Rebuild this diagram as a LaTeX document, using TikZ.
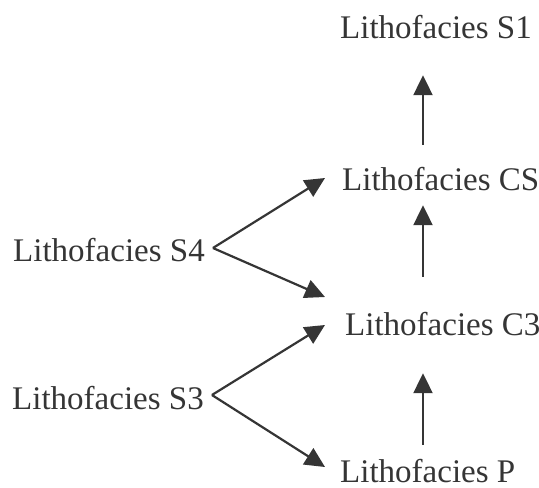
\documentclass[tikz,border=0pt]{standalone}
\usepackage{fontspec}
\setmainfont{Liberation Serif}
\usetikzlibrary{arrows.meta,calc}
\definecolor{ink}{HTML}{353535}
\tikzset{
	facies/.style={anchor=base west, inner sep=0pt, text height=22pt, text depth=0pt, text=ink, font=\fontsize{33}{39}\selectfont},
	arr/.style={draw=ink, line width=2.2pt, -{Triangle[length=20pt,width=19pt]}}
}
\begin{document}
\begin{tikzpicture}[x=1pt,y=-1pt]
	\useasboundingbox (0,0) rectangle (539,488);
	\node[facies] (s1) at (340,38) {Lithofacies S1};
	\node[facies] (cs) at (342,190) {Lithofacies CS};
	\node[facies] (s4) at (13,261) {Lithofacies S4};
	\node[facies] (c3) at (345,335) {Lithofacies C3};
	\node[facies] (s3) at (12,409) {Lithofacies S3};
	\node[facies] (p) at (340,482) {Lithofacies P};
	\coordinate (col) at (423,0);
	
	% upward column
	\draw[arr] ($(cs.north -| col)+(0,-23)$) -- ($(s1.south -| col)+(0,37)$);
	\draw[arr] ($(c3.north -| col)+(0,-36)$) -- ($(cs.south -| col)+(0,15)$);
	\draw[arr] ($(p.north -| col)+(0,-15)$) -- ($(c3.south -| col)+(0,38)$);
	
	% side branches
	\draw[arr] ([shift={(8,-2)}]s4.east) -- ([shift={(-17,-1)}]cs.west);
	\draw[arr] ([shift={(8,-2)}]s4.east) -- ([shift={(-20,-27)}]c3.west);
	\draw[arr] ([shift={(8,-3)}]s3.east) -- ([shift={(-20,1)}]c3.west);
	\draw[arr] ([shift={(8,-3)}]s3.east) -- ([shift={(-15,-4)}]p.west);
\end{tikzpicture}
\end{document}
